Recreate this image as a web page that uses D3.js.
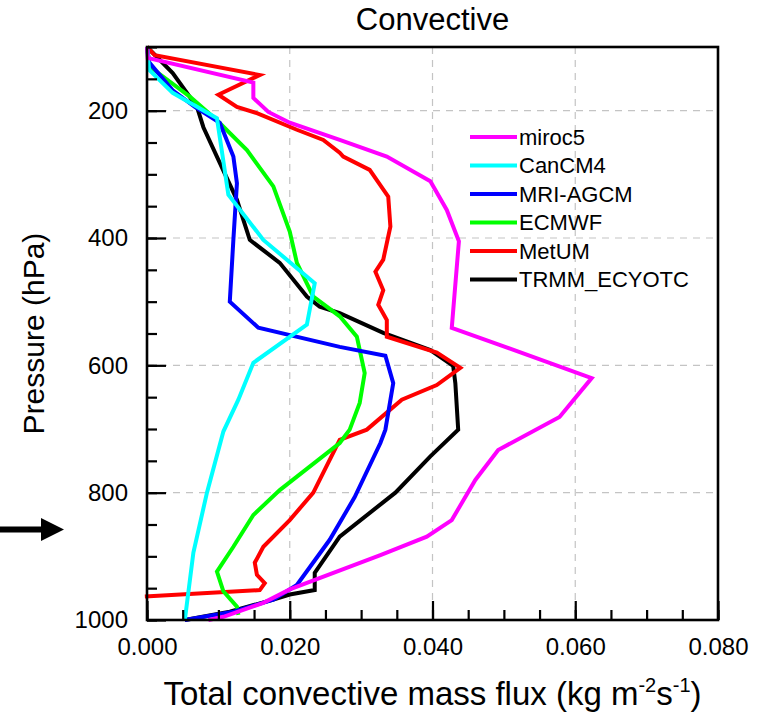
<!DOCTYPE html>
<html>
<head>
<meta charset="utf-8">
<script src="https://cdn.jsdelivr.net/npm/d3@7"></script>
<style>
  html, body { margin: 0; padding: 0; background: #fff; }
  svg { display: block; font-family: "Liberation Sans", Arial, Helvetica, sans-serif; }
</style>
</head>
<body>
<svg id="chart" width="760" height="720"></svg>
<script>
// Convective mass flux profiles (kg m-2 s-1) against pressure (hPa)
const seriesNames = ["miroc5", "CanCM4", "MRI-AGCM", "ECMWF", "MetUM", "TRMM_ECYOTC"];
const seriesColors = ["#ff00ff", "#00ffff", "#0000ff", "#00ff00", "#ff0000", "#000000"];

const miroc5P = [100, 117, 156, 180, 202, 219, 246, 272, 311, 356, 405, 541, 620, 681, 733, 780, 843, 869, 898, 952, 973, 995, 1000];
const miroc5X = [0.0000, 0.0001, 0.0149, 0.0149, 0.0170, 0.0200, 0.0270, 0.0336, 0.0397, 0.0420, 0.0437, 0.0427, 0.0623, 0.0578, 0.0492, 0.0460, 0.0427, 0.0392, 0.0327, 0.0200, 0.0163, 0.0107, 0.0086];

const canP = [100, 136, 172, 212, 332, 403, 471, 536, 596, 654, 704, 800, 894, 1000];
const canX = [0.0000, 0.0003, 0.0036, 0.0098, 0.0114, 0.0163, 0.0235, 0.0224, 0.0149, 0.0128, 0.0107, 0.0084, 0.0065, 0.0053];

const mriP = [100, 124, 168, 194, 219, 272, 314, 403, 500, 541, 571, 585, 628, 701, 722, 807, 874, 945, 968, 987, 1000];
const mriX = [0.0000, 0.0003, 0.0036, 0.0067, 0.0102, 0.0121, 0.0126, 0.0121, 0.0116, 0.0156, 0.0270, 0.0334, 0.0345, 0.0334, 0.0327, 0.0291, 0.0256, 0.0210, 0.0177, 0.0121, 0.0053];

const ecmwfP = [100, 131, 178, 215, 262, 319, 390, 439, 492, 523, 555, 612, 659, 701, 722, 796, 835, 885, 924, 955, 979, 992];
const ecmwfX = [0.0000, 0.0004, 0.0060, 0.0098, 0.0140, 0.0177, 0.0200, 0.0210, 0.0233, 0.0270, 0.0294, 0.0305, 0.0298, 0.0284, 0.0270, 0.0186, 0.0149, 0.0121, 0.0098, 0.0107, 0.0126, 0.0128];

const metumP = [100, 113, 144, 175, 194, 204, 230, 246, 266, 272, 293, 335, 382, 434, 453, 482, 505, 529, 555, 580, 604, 631, 654, 701, 717, 800, 843, 885, 910, 929, 942, 953, 963];
const metumX = [0.0000, 0.0011, 0.0158, 0.0100, 0.0126, 0.0154, 0.0210, 0.0247, 0.0270, 0.0275, 0.0312, 0.0338, 0.0341, 0.0331, 0.0320, 0.0331, 0.0324, 0.0336, 0.0336, 0.0406, 0.0439, 0.0406, 0.0357, 0.0308, 0.0270, 0.0233, 0.0200, 0.0163, 0.0151, 0.0154, 0.0165, 0.0158, -0.0003];

const trmmP = [100, 109, 141, 194, 226, 282, 340, 403, 439, 492, 508, 518, 549, 576, 601, 628, 701, 743, 800, 869, 926, 953, 960, 968, 987, 1000];
const trmmX = [0.0000, 0.0008, 0.0036, 0.0070, 0.0079, 0.0102, 0.0126, 0.0144, 0.0186, 0.0224, 0.0242, 0.0270, 0.0331, 0.0397, 0.0429, 0.0432, 0.0436, 0.0397, 0.0348, 0.0270, 0.0235, 0.0235, 0.0200, 0.0177, 0.0116, 0.0053];

const xTickValues = [0, 0.02, 0.04, 0.06, 0.08];
const xTickLabels = ["0.000", "0.020", "0.040", "0.060", "0.080"];
const yTickValues = [200, 400, 600, 800, 1000];
const yTickLabels = ["200", "400", "600", "800", "1000"];

const titleText = "Convective";
const yTitle = "Pressure (hPa)";

const profiles = [
  { p: miroc5P, x: miroc5X },
  { p: canP, x: canX },
  { p: mriP, x: mriX },
  { p: ecmwfP, x: ecmwfX },
  { p: metumP, x: metumX },
  { p: trmmP, x: trmmX }
];

// ---- layout ----
const plotL = 147, plotR = 718, plotT = 47, plotB = 620;
const svg = d3.select("#chart");

const x = d3.scaleLinear().domain([0, 0.08]).range([plotL, plotR]);
const y = d3.scaleLinear().domain([100, 1000]).range([plotT, plotB]);

// dashed grid at major ticks
const grid = svg.append("g").attr("stroke", "#c4c4c4").attr("stroke-width", 1.2).attr("stroke-dasharray", "7,6");
xTickValues.slice(1, -1).forEach(v => {
  grid.append("line").attr("x1", x(v)).attr("x2", x(v)).attr("y1", plotT).attr("y2", plotB);
});
yTickValues.slice(0, -1).forEach(v => {
  grid.append("line").attr("x1", plotL).attr("x2", plotR).attr("y1", y(v)).attr("y2", y(v));
});

// profiles, last series drawn first so the first legend entry ends on top
const line = d3.line().x(d => x(d[1])).y(d => y(d[0]));
for (let i = profiles.length - 1; i >= 0; i--) {
  const pts = profiles[i].p.map((p, k) => [p, profiles[i].x[k]]);
  svg.append("path")
    .datum(pts)
    .attr("d", line)
    .attr("fill", "none")
    .attr("stroke", seriesColors[i])
    .attr("stroke-width", 4)
    .attr("stroke-linejoin", "miter")
    .attr("stroke-linecap", "butt");
}

// axes: minor ticks then major ticks, pointing into the plot
const xMinor = d3.range(0, 0.0801, 0.005);
const yMinor = d3.range(100, 1001, 50);

svg.append("g").attr("transform", `translate(0,${plotB})`)
  .call(d3.axisBottom(x).tickValues(xMinor).tickSize(-10).tickFormat(""))
  .call(g => g.select(".domain").remove())
  .call(g => g.selectAll("line").attr("stroke-width", 2.2));

svg.append("g").attr("transform", `translate(0,${plotB})`)
  .call(d3.axisBottom(x).tickValues(xTickValues).tickSize(-19).tickPadding(18)
    .tickFormat((d, i) => xTickLabels[i]))
  .call(g => g.select(".domain").remove())
  .call(g => g.selectAll("line").attr("stroke-width", 2.2))
  .call(g => g.selectAll("text").attr("font-size", 24).attr("fill", "#000")
    .attr("font-family", "Liberation Sans, Arial, sans-serif"));

svg.append("g").attr("transform", `translate(${plotL},0)`)
  .call(d3.axisLeft(y).tickValues(yMinor).tickSize(-10).tickFormat(""))
  .call(g => g.select(".domain").remove())
  .call(g => g.selectAll("line").attr("stroke-width", 2.2));

svg.append("g").attr("transform", `translate(${plotL},0)`)
  .call(d3.axisLeft(y).tickValues(yTickValues).tickSize(-19).tickPadding(19)
    .tickFormat((d, i) => yTickLabels[i]))
  .call(g => g.select(".domain").remove())
  .call(g => g.selectAll("line").attr("stroke-width", 2.2))
  .call(g => g.selectAll("text").attr("font-size", 24).attr("fill", "#000")
    .attr("font-family", "Liberation Sans, Arial, sans-serif"));

// frame
svg.append("rect").attr("x", plotL).attr("y", plotT)
  .attr("width", plotR - plotL).attr("height", plotB - plotT)
  .attr("fill", "none").attr("stroke", "#000").attr("stroke-width", 2.6);

// title
svg.append("text").attr("x", (plotL + plotR) / 2).attr("y", 29.5)
  .attr("text-anchor", "middle").attr("font-size", 31).text(titleText);

// x-axis title with superscript exponents
const xt = svg.append("text").attr("x", (plotL + plotR) / 2).attr("y", 705)
  .attr("text-anchor", "middle").attr("font-size", 33);
xt.append("tspan").text("Total convective mass flux (kg m");
xt.append("tspan").attr("dy", -13).attr("font-size", 20).text("-2");
xt.append("tspan").attr("dy", 13).text("s");
xt.append("tspan").attr("dy", -13).attr("font-size", 20).text("-1");
xt.append("tspan").attr("dy", 13).text(")");

// y-axis title
svg.append("text")
  .attr("transform", `translate(44,${(plotT + plotB) / 2}) rotate(-90)`)
  .attr("text-anchor", "middle").attr("font-size", 30).text(yTitle);

// legend
const legend = svg.append("g");
seriesNames.forEach((name, i) => {
  const ly = 137 + i * 28.5;
  legend.append("line").attr("x1", 470).attr("x2", 517).attr("y1", ly).attr("y2", ly)
    .attr("stroke", seriesColors[i]).attr("stroke-width", 4);
  legend.append("text").attr("x", 519).attr("y", ly).attr("dy", "0.36em")
    .attr("font-size", 22).text(name);
});

// arrow marking the lower-level pressure of interest
const arrowP = 858;
const ay = y(arrowP);
svg.append("path")
  .attr("d", `M0,${ay - 3} L41,${ay - 3} L41,${ay - 11.5} L64,${ay} L41,${ay + 11.5} L41,${ay + 3} L0,${ay + 3} Z`)
  .attr("fill", "#000");
</script>
</body>
</html>
